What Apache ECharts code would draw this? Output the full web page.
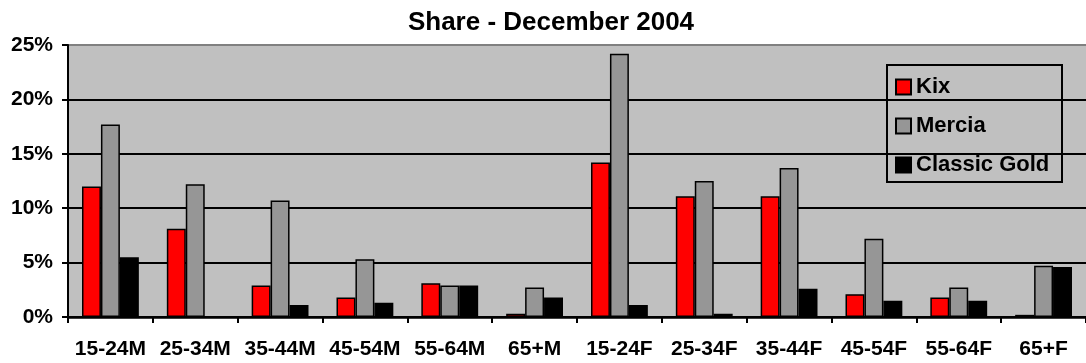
<!DOCTYPE html>
<html>
<head>
<meta charset="utf-8">
<title>Share - December 2004</title>
<script src="https://cdn.jsdelivr.net/npm/echarts@6/dist/echarts.min.js"></script>
<style>
  html, body { margin: 0; padding: 0; background: #ffffff; }
  #chart { width: 1086px; height: 363px; }
</style>
</head>
<body>
<div id="chart"></div>
<script>
// Audience share by age / sex group, December 2004 (percent)
const categories = ['15-24M', '25-34M', '35-44M', '45-54M', '55-64M', '65+M',
                    '15-24F', '25-34F', '35-44F', '45-54F', '55-64F', '65+F'];
const kix         = [12.0, 8.1, 2.9, 1.8, 3.1, 0.3, 14.2, 11.1, 11.1, 2.1, 1.8, 0.2];
const mercia      = [17.7, 12.2, 10.7, 5.3, 2.9, 2.7, 24.2, 12.5, 13.7, 7.2, 2.7, 4.7];
const classicGold = [5.5, 0.0, 1.1, 1.3, 2.9, 1.8, 1.1, 0.3, 2.6, 1.5, 1.5, 4.6];
const yTicks = [0, 5, 10, 15, 20, 25];

const FONT = '"Liberation Sans", Arial, sans-serif';

const chart = echarts.init(document.getElementById('chart'), null, { renderer: 'canvas' });

function barSeries(name, data, color) {
  return {
    name: name,
    type: 'bar',
    data: data,
    barGap: '0%',
    barCategoryGap: '33%',
    itemStyle: { color: color, borderColor: '#000000', borderWidth: 1.5 },
    emphasis: { disabled: true }
  };
}

chart.setOption({
  animation: false,
  backgroundColor: '#ffffff',
  title: {
    text: 'Share - December 2004',
    left: 551,
    top: 10,
    padding: 0,
    textAlign: 'center',
    textStyle: { fontFamily: FONT, fontWeight: 'bold', fontSize: 26, lineHeight: 26, color: '#000000' }
  },
  grid: {
    left: 68, right: -2, top: 45, bottom: 46,
    show: true,
    backgroundColor: '#c0c0c0',
    borderWidth: 0,
    z: -2
  },
  legend: {
    orient: 'vertical',
    left: 895,
    top: 76,
    icon: 'rect',
    itemWidth: 15,
    itemHeight: 15,
    itemGap: 17,
    padding: 0,
    z: -1,
    selectedMode: false,
    textStyle: { fontFamily: FONT, fontWeight: 'bold', fontSize: 22, color: '#000000', lineHeight: 22 },
    data: ['Kix', 'Mercia', 'Classic Gold']
  },
  graphic: [{
    type: 'rect',
    z: -1,
    shape: { x: 887, y: 65, width: 175, height: 117 },
    style: { fill: 'transparent', stroke: '#000000', lineWidth: 2 }
  }],
  xAxis: {
    type: 'category',
    data: categories,
    boundaryGap: true,
    axisLine: { lineStyle: { color: '#000000', width: 2.5 } },
    axisTick: { show: true, alignWithLabel: false, length: 6, lineStyle: { color: '#000000', width: 2 } },
    axisLabel: {
      interval: 0, margin: 22,
      fontFamily: FONT, fontWeight: 'bold', fontSize: 21, color: '#000000'
    }
  },
  yAxis: {
    type: 'value',
    min: yTicks[0],
    max: yTicks[yTicks.length - 1],
    interval: yTicks[1] - yTicks[0],
    axisLine: { show: true, lineStyle: { color: '#000000', width: 2 } },
    axisTick: { show: true, length: 6, lineStyle: { color: '#000000', width: 2 } },
    splitLine: {
      show: true,
      lineStyle: { color: ['#000000', '#000000', '#000000', '#000000', '#000000', '#808080'], width: 2 }
    },
    axisLabel: {
      margin: 15,
      formatter: v => v + '%',
      fontFamily: FONT, fontWeight: 'bold', fontSize: 21, color: '#000000'
    }
  },
  series: [
    barSeries('Kix', kix, '#ff0000'),
    barSeries('Mercia', mercia, '#969696'),
    barSeries('Classic Gold', classicGold, '#000000')
  ]
});
</script>
</body>
</html>
